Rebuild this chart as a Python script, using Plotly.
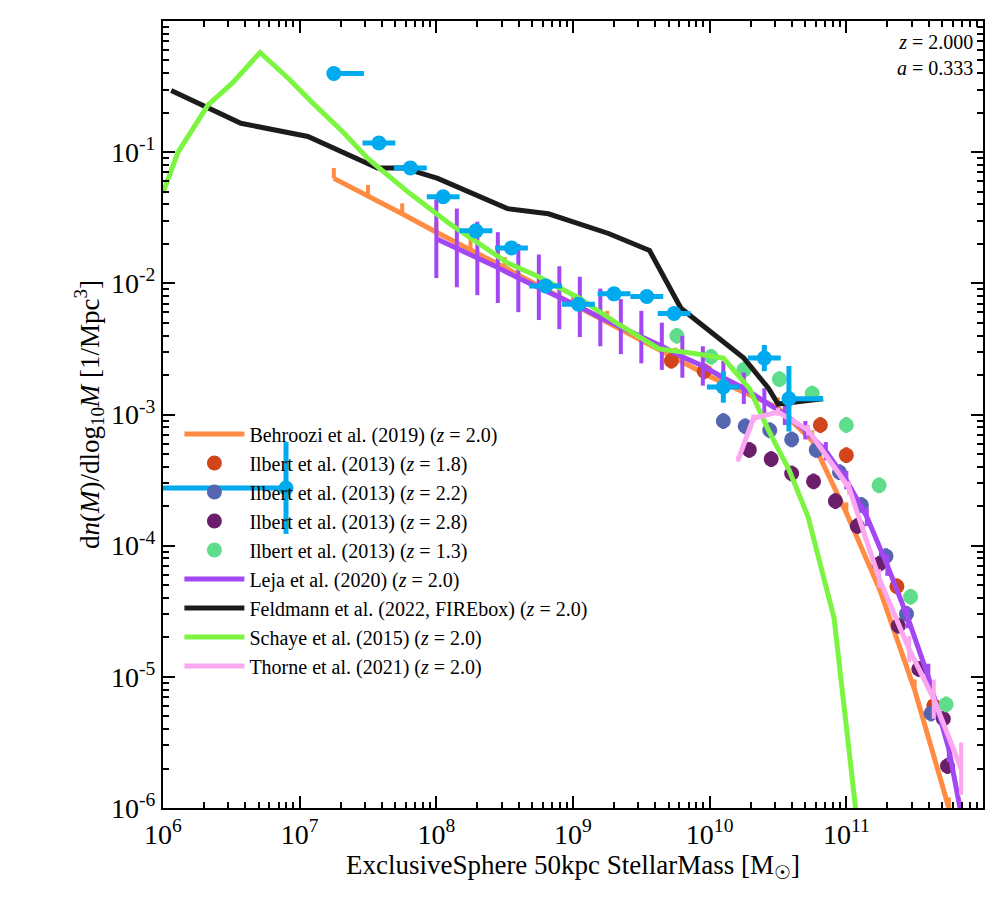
import numpy as np
import plotly.graph_objects as go

# values are log10(M / Msun) and log10(phi / Mpc^-3 dex^-1)
feld_x = [6.06, 6.57, 7.06, 7.57, 7.76, 8.01, 8.52, 8.82, 9.26, 9.56, 9.79, 10.05, 10.25, 10.43, 10.50, 10.83]
feld_y = [-0.53, -0.78, -0.88, -1.12, -1.12, -1.20, -1.43, -1.47, -1.62, -1.75, -2.19, -2.40, -2.57, -2.80, -2.92, -2.88]

schaye_x = [6.0, 6.11, 6.33, 6.51, 6.71, 6.92, 7.1, 7.32, 7.5, 7.8, 8.09, 8.31, 8.53, 8.75, 9.04, 9.33, 9.63, 9.85, 10.1, 10.29, 10.43, 10.58, 10.72, 10.91, 11.02, 11.1]
schaye_y = [-1.31, -1.0, -0.64, -0.47, -0.24, -0.44, -0.63, -0.85, -1.05, -1.31, -1.54, -1.69, -1.85, -1.95, -2.11, -2.31, -2.5, -2.53, -2.57, -2.8, -3.12, -3.42, -3.78, -4.55, -5.6, -6.3]

behr_x = [7.25, 7.5, 7.75, 8.0, 8.25, 8.5, 8.75, 9.0, 9.25, 9.5, 9.75, 10.0, 10.25, 10.5, 10.75, 11.0, 11.25, 11.5, 11.75]
behr_y = [-1.20, -1.33, -1.47, -1.61, -1.74, -1.88, -2.02, -2.16, -2.29, -2.43, -2.57, -2.71, -2.83, -2.95, -3.20, -3.75, -4.35, -5.10, -6.0]

leja_x = [8.00, 8.15, 8.30, 8.45, 8.60, 8.75, 8.90, 9.05, 9.20, 9.35, 9.50, 9.65, 9.80, 9.95, 10.10, 10.25, 10.40, 10.55, 10.70, 10.85, 11.00, 11.15, 11.30, 11.45, 11.60, 11.75, 11.85]
leja_y = [-1.66, -1.73, -1.81, -1.88, -1.96, -2.03, -2.11, -2.18, -2.26, -2.33, -2.41, -2.48, -2.56, -2.63, -2.72, -2.80, -2.90, -3.00, -3.12, -3.28, -3.50, -3.78, -4.15, -4.55, -5.00, -5.55, -6.1]
leja_err = [0.30, 0.30, 0.28, 0.27, 0.26, 0.25, 0.24, 0.23, 0.22, 0.21, 0.20, 0.18, 0.16, 0.15, 0.13, 0.12, 0.10, 0.08, 0.07, 0.07, 0.07, 0.07, 0.08, 0.08, 0.10, 0.10, 0.10]

thorne_x = [10.21, 10.32, 10.5, 10.72, 11.02, 11.24, 11.46, 11.64, 11.84]
thorne_y = [-3.34, -3.03, -2.98, -3.12, -3.56, -4.25, -4.79, -5.17, -5.7]
thorne_err = [0.02, 0.03, 0.03, 0.04, 0.05, 0.07, 0.1, 0.15, 0.2]

il18_x = [9.72, 9.96, 10.81, 11.00, 11.37, 11.64]
il18_y = [-2.59, -2.67, -3.08, -3.31, -4.31, -5.22]
il22_x = [10.10, 10.26, 10.44, 10.60, 10.78, 10.95, 11.11, 11.29, 11.44, 11.62]
il22_y = [-3.05, -3.09, -3.12, -3.19, -3.27, -3.44, -3.69, -4.08, -4.52, -5.28]
il28_x = [10.29, 10.45, 10.60, 10.76, 10.92, 11.08, 11.24, 11.38, 11.53, 11.71, 11.74]
il28_y = [-3.27, -3.34, -3.45, -3.51, -3.66, -3.85, -4.14, -4.61, -4.94, -5.32, -5.68]
il13_x = [9.76, 10.01, 10.25, 10.51, 10.75, 11.00, 11.24, 11.47, 11.73]
il13_y = [-2.40, -2.56, -2.66, -2.73, -2.84, -3.08, -3.54, -4.39, -5.21]

obs_x = [6.90, 7.25, 7.58, 7.81, 8.05, 8.29, 8.55, 8.80, 9.04, 9.30, 9.54, 9.74, 10.10, 10.40, 10.58]
obs_y = [-3.56, -0.40, -0.93, -1.12, -1.34, -1.60, -1.73, -2.02, -2.16, -2.08, -2.10, -2.23, -2.79, -2.57, -2.88]
obs_xlo = [0.90, 0.0, 0.12, 0.12, 0.12, 0.12, 0.12, 0.12, 0.12, 0.12, 0.12, 0.12, 0.12, 0.12, 0.0]
obs_xhi = [0.02, 0.22, 0.12, 0.12, 0.12, 0.12, 0.12, 0.12, 0.12, 0.12, 0.12, 0.12, 0.12, 0.12, 0.25]
obs_yerr = [0.35, 0, 0, 0, 0, 0, 0, 0, 0, 0, 0, 0, 0.12, 0.10, 0.25]

FONT = "Liberation Serif"


def lin(a):
    return 10 ** np.array(a, dtype=float)


def err_dex(vals, lo, hi):
    v = np.array(vals, dtype=float)
    return dict(type="data", symmetric=False,
                array=10 ** (v + np.array(hi)) - 10 ** v,
                arrayminus=10 ** v - 10 ** (v - np.array(lo)),
                thickness=4, width=0)


fig = go.Figure()

n_b = len(behr_x)
fig.add_trace(go.Scatter(
    x=lin(behr_x), y=lin(behr_y), mode="lines", name="Behroozi et al. (2019) (<i>z</i> = 2.0)",
    line=dict(color="#FF8C42", width=5),
    error_y=err_dex(behr_y, [0] * n_b, [0.08] * n_b) | dict(color="#FF8C42"),
))

for xs, ys, col, lab in [
    (il18_x, il18_y, "#D2441A", "Ilbert et al. (2013) (<i>z</i> = 1.8)"),
    (il22_x, il22_y, "#5566B0", "Ilbert et al. (2013) (<i>z</i> = 2.2)"),
    (il28_x, il28_y, "#6B1F6B", "Ilbert et al. (2013) (<i>z</i> = 2.8)"),
    (il13_x, il13_y, "#5EDE8B", "Ilbert et al. (2013) (<i>z</i> = 1.3)"),
]:
    n = len(xs)
    fig.add_trace(go.Scatter(
        x=lin(xs), y=lin(ys), mode="markers", name=lab,
        marker=dict(color=col, size=15),
        error_y=err_dex(ys, [0.06] * n, [0.06] * n) | dict(color=col),
    ))

fig.add_trace(go.Scatter(
    x=lin(leja_x), y=lin(leja_y), mode="lines", name="Leja et al. (2020) (<i>z</i> = 2.0)",
    line=dict(color="#A347F5", width=5),
    error_y=err_dex(leja_y, leja_err, leja_err) | dict(color="#A347F5"),
))

fig.add_trace(go.Scatter(
    x=lin(feld_x), y=lin(feld_y), mode="lines",
    name="Feldmann et al. (2022, FIREbox) (<i>z</i> = 2.0)",
    line=dict(color="#1c1c1c", width=5),
))

fig.add_trace(go.Scatter(
    x=lin(schaye_x), y=lin(schaye_y), mode="lines", name="Schaye et al. (2015) (<i>z</i> = 2.0)",
    line=dict(color="#7CF542", width=5),
))

fig.add_trace(go.Scatter(
    x=lin(thorne_x), y=lin(thorne_y), mode="lines", name="Thorne et al. (2021) (<i>z</i> = 2.0)",
    line=dict(color="#FBA8F0", width=5),
    error_y=err_dex(thorne_y, thorne_err, thorne_err) | dict(color="#FBA8F0"),
))

ox = np.array(obs_x)
fig.add_trace(go.Scatter(
    x=lin(obs_x), y=lin(obs_y), mode="markers", showlegend=False,
    marker=dict(color="#00AAEE", size=15),
    error_x=dict(type="data", symmetric=False,
                 array=10 ** (ox + np.array(obs_xhi)) - 10 ** ox,
                 arrayminus=10 ** ox - 10 ** (ox - np.array(obs_xlo)),
                 thickness=5, width=0, color="#00AAEE"),
    error_y=err_dex(obs_y, obs_yerr, obs_yerr) | dict(color="#00AAEE", thickness=5),
))

tick_vals = [10 ** k for k in range(6, 13)]
tick_text = [f"10<sup>{k}</sup>" for k in range(6, 13)]
ytick_vals = [10 ** k for k in range(-6, 1)]
ytick_text = [f"10<sup>{k}</sup>" for k in range(-6, 1)]

axis_common = dict(
    type="log", showgrid=False, zeroline=False, mirror="allticks",
    showline=True, linecolor="black", linewidth=2,
    ticks="inside", ticklen=12, tickwidth=2, tickcolor="black",
    minor=dict(ticks="inside", ticklen=6, tickwidth=1.5, tickcolor="black", dtick="D1"),
    tickfont=dict(family=FONT, size=28, color="black"),
)

fig.update_layout(
    width=996, height=900,
    margin=dict(l=155, r=21, t=13, b=100),
    plot_bgcolor="white", paper_bgcolor="white",
    font=dict(family=FONT, color="black"),
    xaxis=axis_common | dict(range=[6, 12], tickvals=tick_vals, ticktext=tick_text,
                             title=dict(text="ExclusiveSphere 50kpc StellarMass [M<sub>☉</sub>]",
                                        font=dict(family=FONT, size=27), standoff=6)),
    yaxis=axis_common | dict(range=[-6, 0], tickvals=ytick_vals, ticktext=ytick_text,
                             title=dict(text="d<i>n</i>(<i>M</i>)/dlog<sub>10</sub><i>M</i> [1/Mpc<sup>3</sup>]",
                                        font=dict(family=FONT, size=27), standoff=4)),
    legend=dict(x=0.02, y=0.50, xanchor="left", yanchor="top", bgcolor="rgba(0,0,0,0)",
                font=dict(family=FONT, size=20), tracegroupgap=10, itemwidth=60),
    annotations=[dict(xref="paper", yref="paper", x=0.99, y=0.99, xanchor="right", yanchor="top",
                      showarrow=False, align="right",
                      text="<i>z</i> = 2.000<br><i>a</i> = 0.333",
                      font=dict(family=FONT, size=20))],
)

fig.write_html("out.html")
